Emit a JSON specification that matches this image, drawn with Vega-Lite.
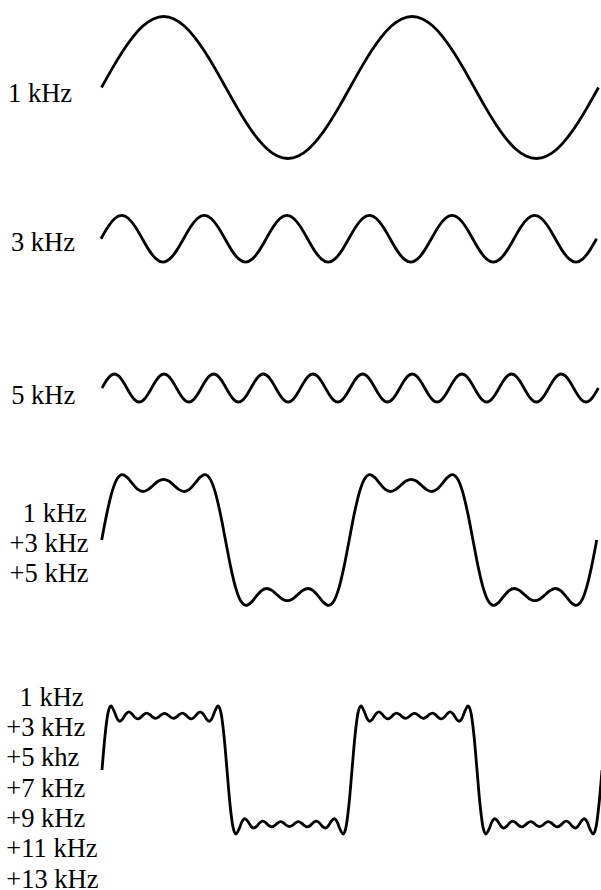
{
  "$schema": "https://vega.github.io/schema/vega-lite/v6.json",
  "background": "white",
  "padding": 0,
  "spacing": 0,
  "bounds": "flush",
  "config": {
    "view": {"stroke": null},
    "line": {"color": "#000000", "strokeWidth": 2.8, "strokeCap": "butt", "clip": true},
    "axisY": {
      "domain": false,
      "ticks": false,
      "labels": false,
      "grid": false,
      "titleAngle": 0,
      "titleAlign": "left",
      "titleBaseline": "alphabetic",
      "titleFont": "Liberation Serif",
      "titleFontSize": 26.5,
      "titleFontWeight": "normal",
      "titleColor": "#000000",
      "titleLineHeight": 30.3
    }
  },
  "datasets": {
    "w1": [
      {"deg":0,"amp":0},{"deg":15,"amp":0.2588},{"deg":30,"amp":0.5},{"deg":45,"amp":0.7071},{"deg":60,"amp":0.866},{"deg":75,"amp":0.9659},
      {"deg":90,"amp":1},{"deg":105,"amp":0.9659},{"deg":120,"amp":0.866},{"deg":135,"amp":0.7071},{"deg":150,"amp":0.5},{"deg":165,"amp":0.2588},
      {"deg":180,"amp":0},{"deg":195,"amp":-0.2588},{"deg":210,"amp":-0.5},{"deg":225,"amp":-0.7071},{"deg":240,"amp":-0.866},{"deg":255,"amp":-0.9659},
      {"deg":270,"amp":-1},{"deg":285,"amp":-0.9659},{"deg":300,"amp":-0.866},{"deg":315,"amp":-0.7071},{"deg":330,"amp":-0.5},{"deg":345,"amp":-0.2588},
      {"deg":360,"amp":0},{"deg":375,"amp":0.2588},{"deg":390,"amp":0.5},{"deg":405,"amp":0.7071},{"deg":420,"amp":0.866},{"deg":435,"amp":0.9659},
      {"deg":450,"amp":1},{"deg":465,"amp":0.9659},{"deg":480,"amp":0.866},{"deg":495,"amp":0.7071},{"deg":510,"amp":0.5},{"deg":525,"amp":0.2588},
      {"deg":540,"amp":0},{"deg":555,"amp":-0.2588},{"deg":570,"amp":-0.5},{"deg":585,"amp":-0.7071},{"deg":600,"amp":-0.866},{"deg":615,"amp":-0.9659},
      {"deg":630,"amp":-1},{"deg":645,"amp":-0.9659},{"deg":660,"amp":-0.866},{"deg":675,"amp":-0.7071},{"deg":690,"amp":-0.5},{"deg":705,"amp":-0.2588},
      {"deg":720,"amp":0}
    ],
    "w3": [
      {"deg":0,"amp":0},{"deg":10,"amp":0.1667},{"deg":20,"amp":0.2887},{"deg":30,"amp":0.3333},{"deg":40,"amp":0.2887},{"deg":50,"amp":0.1667},
      {"deg":60,"amp":0},{"deg":70,"amp":-0.1667},{"deg":80,"amp":-0.2887},{"deg":90,"amp":-0.3333},{"deg":100,"amp":-0.2887},{"deg":110,"amp":-0.1667},
      {"deg":120,"amp":0},{"deg":130,"amp":0.1667},{"deg":140,"amp":0.2887},{"deg":150,"amp":0.3333},{"deg":160,"amp":0.2887},{"deg":170,"amp":0.1667},
      {"deg":180,"amp":0},{"deg":190,"amp":-0.1667},{"deg":200,"amp":-0.2887},{"deg":210,"amp":-0.3333},{"deg":220,"amp":-0.2887},{"deg":230,"amp":-0.1667},
      {"deg":240,"amp":0},{"deg":250,"amp":0.1667},{"deg":260,"amp":0.2887},{"deg":270,"amp":0.3333},{"deg":280,"amp":0.2887},{"deg":290,"amp":0.1667},
      {"deg":300,"amp":0},{"deg":310,"amp":-0.1667},{"deg":320,"amp":-0.2887},{"deg":330,"amp":-0.3333},{"deg":340,"amp":-0.2887},{"deg":350,"amp":-0.1667},
      {"deg":360,"amp":0},{"deg":370,"amp":0.1667},{"deg":380,"amp":0.2887},{"deg":390,"amp":0.3333},{"deg":400,"amp":0.2887},{"deg":410,"amp":0.1667},
      {"deg":420,"amp":0},{"deg":430,"amp":-0.1667},{"deg":440,"amp":-0.2887},{"deg":450,"amp":-0.3333},{"deg":460,"amp":-0.2887},{"deg":470,"amp":-0.1667},
      {"deg":480,"amp":0},{"deg":490,"amp":0.1667},{"deg":500,"amp":0.2887},{"deg":510,"amp":0.3333},{"deg":520,"amp":0.2887},{"deg":530,"amp":0.1667},
      {"deg":540,"amp":0},{"deg":550,"amp":-0.1667},{"deg":560,"amp":-0.2887},{"deg":570,"amp":-0.3333},{"deg":580,"amp":-0.2887},{"deg":590,"amp":-0.1667},
      {"deg":600,"amp":0},{"deg":610,"amp":0.1667},{"deg":620,"amp":0.2887},{"deg":630,"amp":0.3333},{"deg":640,"amp":0.2887},{"deg":650,"amp":0.1667},
      {"deg":660,"amp":0},{"deg":670,"amp":-0.1667},{"deg":680,"amp":-0.2887},{"deg":690,"amp":-0.3333},{"deg":700,"amp":-0.2887},{"deg":710,"amp":-0.1667},
      {"deg":720,"amp":0}
    ],
    "w5": [
      {"deg":0,"amp":0},{"deg":6,"amp":0.1},{"deg":12,"amp":0.1732},{"deg":18,"amp":0.2},{"deg":24,"amp":0.1732},{"deg":30,"amp":0.1},
      {"deg":36,"amp":0},{"deg":42,"amp":-0.1},{"deg":48,"amp":-0.1732},{"deg":54,"amp":-0.2},{"deg":60,"amp":-0.1732},{"deg":66,"amp":-0.1},
      {"deg":72,"amp":0},{"deg":78,"amp":0.1},{"deg":84,"amp":0.1732},{"deg":90,"amp":0.2},{"deg":96,"amp":0.1732},{"deg":102,"amp":0.1},
      {"deg":108,"amp":0},{"deg":114,"amp":-0.1},{"deg":120,"amp":-0.1732},{"deg":126,"amp":-0.2},{"deg":132,"amp":-0.1732},{"deg":138,"amp":-0.1},
      {"deg":144,"amp":0},{"deg":150,"amp":0.1},{"deg":156,"amp":0.1732},{"deg":162,"amp":0.2},{"deg":168,"amp":0.1732},{"deg":174,"amp":0.1},
      {"deg":180,"amp":0},{"deg":186,"amp":-0.1},{"deg":192,"amp":-0.1732},{"deg":198,"amp":-0.2},{"deg":204,"amp":-0.1732},{"deg":210,"amp":-0.1},
      {"deg":216,"amp":0},{"deg":222,"amp":0.1},{"deg":228,"amp":0.1732},{"deg":234,"amp":0.2},{"deg":240,"amp":0.1732},{"deg":246,"amp":0.1},
      {"deg":252,"amp":0},{"deg":258,"amp":-0.1},{"deg":264,"amp":-0.1732},{"deg":270,"amp":-0.2},{"deg":276,"amp":-0.1732},{"deg":282,"amp":-0.1},
      {"deg":288,"amp":0},{"deg":294,"amp":0.1},{"deg":300,"amp":0.1732},{"deg":306,"amp":0.2},{"deg":312,"amp":0.1732},{"deg":318,"amp":0.1},
      {"deg":324,"amp":0},{"deg":330,"amp":-0.1},{"deg":336,"amp":-0.1732},{"deg":342,"amp":-0.2},{"deg":348,"amp":-0.1732},{"deg":354,"amp":-0.1},
      {"deg":360,"amp":0},{"deg":366,"amp":0.1},{"deg":372,"amp":0.1732},{"deg":378,"amp":0.2},{"deg":384,"amp":0.1732},{"deg":390,"amp":0.1},
      {"deg":396,"amp":0},{"deg":402,"amp":-0.1},{"deg":408,"amp":-0.1732},{"deg":414,"amp":-0.2},{"deg":420,"amp":-0.1732},{"deg":426,"amp":-0.1},
      {"deg":432,"amp":0},{"deg":438,"amp":0.1},{"deg":444,"amp":0.1732},{"deg":450,"amp":0.2},{"deg":456,"amp":0.1732},{"deg":462,"amp":0.1},
      {"deg":468,"amp":0},{"deg":474,"amp":-0.1},{"deg":480,"amp":-0.1732},{"deg":486,"amp":-0.2},{"deg":492,"amp":-0.1732},{"deg":498,"amp":-0.1},
      {"deg":504,"amp":0},{"deg":510,"amp":0.1},{"deg":516,"amp":0.1732},{"deg":522,"amp":0.2},{"deg":528,"amp":0.1732},{"deg":534,"amp":0.1},
      {"deg":540,"amp":0},{"deg":546,"amp":-0.1},{"deg":552,"amp":-0.1732},{"deg":558,"amp":-0.2},{"deg":564,"amp":-0.1732},{"deg":570,"amp":-0.1},
      {"deg":576,"amp":0},{"deg":582,"amp":0.1},{"deg":588,"amp":0.1732},{"deg":594,"amp":0.2},{"deg":600,"amp":0.1732},{"deg":606,"amp":0.1},
      {"deg":612,"amp":0},{"deg":618,"amp":-0.1},{"deg":624,"amp":-0.1732},{"deg":630,"amp":-0.2},{"deg":636,"amp":-0.1732},{"deg":642,"amp":-0.1},
      {"deg":648,"amp":0},{"deg":654,"amp":0.1},{"deg":660,"amp":0.1732},{"deg":666,"amp":0.2},{"deg":672,"amp":0.1732},{"deg":678,"amp":0.1},
      {"deg":684,"amp":0},{"deg":690,"amp":-0.1},{"deg":696,"amp":-0.1732},{"deg":702,"amp":-0.2},{"deg":708,"amp":-0.1732},{"deg":714,"amp":-0.1},
      {"deg":720,"amp":0}
    ],
    "w135": [
      {"deg":0,"amp":0},{"deg":7.5,"amp":0.3798},{"deg":15,"amp":0.6877},{"deg":22.5,"amp":0.8754},{"deg":30,"amp":0.9333},{"deg":37.5,"amp":0.8906},
      {"deg":45,"amp":0.8014},{"deg":52.5,"amp":0.7226},{"deg":60,"amp":0.6928},{"deg":67.5,"amp":0.7198},{"deg":75,"amp":0.782},{"deg":82.5,"amp":0.8422},
      {"deg":90,"amp":0.8667},{"deg":97.5,"amp":0.8422},{"deg":105,"amp":0.782},{"deg":112.5,"amp":0.7198},{"deg":120,"amp":0.6928},{"deg":127.5,"amp":0.7226},
      {"deg":135,"amp":0.8014},{"deg":142.5,"amp":0.8906},{"deg":150,"amp":0.9333},{"deg":157.5,"amp":0.8754},{"deg":165,"amp":0.6877},{"deg":172.5,"amp":0.3798},
      {"deg":180,"amp":0},{"deg":187.5,"amp":-0.3798},{"deg":195,"amp":-0.6877},{"deg":202.5,"amp":-0.8754},{"deg":210,"amp":-0.9333},{"deg":217.5,"amp":-0.8906},
      {"deg":225,"amp":-0.8014},{"deg":232.5,"amp":-0.7226},{"deg":240,"amp":-0.6928},{"deg":247.5,"amp":-0.7198},{"deg":255,"amp":-0.782},{"deg":262.5,"amp":-0.8422},
      {"deg":270,"amp":-0.8667},{"deg":277.5,"amp":-0.8422},{"deg":285,"amp":-0.782},{"deg":292.5,"amp":-0.7198},{"deg":300,"amp":-0.6928},{"deg":307.5,"amp":-0.7226},
      {"deg":315,"amp":-0.8014},{"deg":322.5,"amp":-0.8906},{"deg":330,"amp":-0.9333},{"deg":337.5,"amp":-0.8754},{"deg":345,"amp":-0.6877},{"deg":352.5,"amp":-0.3798},
      {"deg":360,"amp":0},{"deg":367.5,"amp":0.3798},{"deg":375,"amp":0.6877},{"deg":382.5,"amp":0.8754},{"deg":390,"amp":0.9333},{"deg":397.5,"amp":0.8906},
      {"deg":405,"amp":0.8014},{"deg":412.5,"amp":0.7226},{"deg":420,"amp":0.6928},{"deg":427.5,"amp":0.7198},{"deg":435,"amp":0.782},{"deg":442.5,"amp":0.8422},
      {"deg":450,"amp":0.8667},{"deg":457.5,"amp":0.8422},{"deg":465,"amp":0.782},{"deg":472.5,"amp":0.7198},{"deg":480,"amp":0.6928},{"deg":487.5,"amp":0.7226},
      {"deg":495,"amp":0.8014},{"deg":502.5,"amp":0.8906},{"deg":510,"amp":0.9333},{"deg":517.5,"amp":0.8754},{"deg":525,"amp":0.6877},{"deg":532.5,"amp":0.3798},
      {"deg":540,"amp":0},{"deg":547.5,"amp":-0.3798},{"deg":555,"amp":-0.6877},{"deg":562.5,"amp":-0.8754},{"deg":570,"amp":-0.9333},{"deg":577.5,"amp":-0.8906},
      {"deg":585,"amp":-0.8014},{"deg":592.5,"amp":-0.7226},{"deg":600,"amp":-0.6928},{"deg":607.5,"amp":-0.7198},{"deg":615,"amp":-0.782},{"deg":622.5,"amp":-0.8422},
      {"deg":630,"amp":-0.8667},{"deg":637.5,"amp":-0.8422},{"deg":645,"amp":-0.782},{"deg":652.5,"amp":-0.7198},{"deg":660,"amp":-0.6928},{"deg":667.5,"amp":-0.7226},
      {"deg":675,"amp":-0.8014},{"deg":682.5,"amp":-0.8906},{"deg":690,"amp":-0.9333},{"deg":697.5,"amp":-0.8754},{"deg":705,"amp":-0.6877},{"deg":712.5,"amp":-0.3798},
      {"deg":720,"amp":0}
    ],
    "w13579": [
      {"deg":0,"amp":0},{"deg":4.29,"amp":0.4929},{"deg":8.57,"amp":0.824},{"deg":12.86,"amp":0.9273},{"deg":17.14,"amp":0.8609},{"deg":21.43,"amp":0.7523},
      {"deg":25.71,"amp":0.7064},{"deg":30,"amp":0.7438},{"deg":34.29,"amp":0.811},{"deg":38.57,"amp":0.8416},{"deg":42.86,"amp":0.8146},{"deg":47.14,"amp":0.764},
      {"deg":51.43,"amp":0.7402},{"deg":55.71,"amp":0.7622},{"deg":60,"amp":0.8044},{"deg":64.29,"amp":0.8248},{"deg":68.57,"amp":0.8054},{"deg":72.86,"amp":0.7675},
      {"deg":77.14,"amp":0.749},{"deg":81.43,"amp":0.7671},{"deg":85.71,"amp":0.8031},{"deg":90,"amp":0.8209},{"deg":94.29,"amp":0.8031},{"deg":98.57,"amp":0.7671},
      {"deg":102.86,"amp":0.749},{"deg":107.14,"amp":0.7675},{"deg":111.43,"amp":0.8054},{"deg":115.71,"amp":0.8248},{"deg":120,"amp":0.8044},{"deg":124.29,"amp":0.7622},
      {"deg":128.57,"amp":0.7402},{"deg":132.86,"amp":0.764},{"deg":137.14,"amp":0.8146},{"deg":141.43,"amp":0.8416},{"deg":145.71,"amp":0.811},{"deg":150,"amp":0.7438},
      {"deg":154.29,"amp":0.7064},{"deg":158.57,"amp":0.7523},{"deg":162.86,"amp":0.8609},{"deg":167.14,"amp":0.9273},{"deg":171.43,"amp":0.824},{"deg":175.71,"amp":0.4929},
      {"deg":180,"amp":0},{"deg":184.29,"amp":-0.4929},{"deg":188.57,"amp":-0.824},{"deg":192.86,"amp":-0.9273},{"deg":197.14,"amp":-0.8609},{"deg":201.43,"amp":-0.7523},
      {"deg":205.71,"amp":-0.7064},{"deg":210,"amp":-0.7438},{"deg":214.29,"amp":-0.811},{"deg":218.57,"amp":-0.8416},{"deg":222.86,"amp":-0.8146},{"deg":227.14,"amp":-0.764},
      {"deg":231.43,"amp":-0.7402},{"deg":235.71,"amp":-0.7622},{"deg":240,"amp":-0.8044},{"deg":244.29,"amp":-0.8248},{"deg":248.57,"amp":-0.8054},{"deg":252.86,"amp":-0.7675},
      {"deg":257.14,"amp":-0.749},{"deg":261.43,"amp":-0.7671},{"deg":265.71,"amp":-0.8031},{"deg":270,"amp":-0.8209},{"deg":274.29,"amp":-0.8031},{"deg":278.57,"amp":-0.7671},
      {"deg":282.86,"amp":-0.749},{"deg":287.14,"amp":-0.7675},{"deg":291.43,"amp":-0.8054},{"deg":295.71,"amp":-0.8248},{"deg":300,"amp":-0.8044},{"deg":304.29,"amp":-0.7622},
      {"deg":308.57,"amp":-0.7402},{"deg":312.86,"amp":-0.764},{"deg":317.14,"amp":-0.8146},{"deg":321.43,"amp":-0.8416},{"deg":325.71,"amp":-0.811},{"deg":330,"amp":-0.7438},
      {"deg":334.29,"amp":-0.7064},{"deg":338.57,"amp":-0.7523},{"deg":342.86,"amp":-0.8609},{"deg":347.14,"amp":-0.9273},{"deg":351.43,"amp":-0.824},{"deg":355.71,"amp":-0.4929},
      {"deg":360,"amp":0},{"deg":364.29,"amp":0.4929},{"deg":368.57,"amp":0.824},{"deg":372.86,"amp":0.9273},{"deg":377.14,"amp":0.8609},{"deg":381.43,"amp":0.7523},
      {"deg":385.71,"amp":0.7064},{"deg":390,"amp":0.7438},{"deg":394.29,"amp":0.811},{"deg":398.57,"amp":0.8416},{"deg":402.86,"amp":0.8146},{"deg":407.14,"amp":0.764},
      {"deg":411.43,"amp":0.7402},{"deg":415.71,"amp":0.7622},{"deg":420,"amp":0.8044},{"deg":424.29,"amp":0.8248},{"deg":428.57,"amp":0.8054},{"deg":432.86,"amp":0.7675},
      {"deg":437.14,"amp":0.749},{"deg":441.43,"amp":0.7671},{"deg":445.71,"amp":0.8031},{"deg":450,"amp":0.8209},{"deg":454.29,"amp":0.8031},{"deg":458.57,"amp":0.7671},
      {"deg":462.86,"amp":0.749},{"deg":467.14,"amp":0.7675},{"deg":471.43,"amp":0.8054},{"deg":475.71,"amp":0.8248},{"deg":480,"amp":0.8044},{"deg":484.29,"amp":0.7622},
      {"deg":488.57,"amp":0.7402},{"deg":492.86,"amp":0.764},{"deg":497.14,"amp":0.8146},{"deg":501.43,"amp":0.8416},{"deg":505.71,"amp":0.811},{"deg":510,"amp":0.7438},
      {"deg":514.29,"amp":0.7064},{"deg":518.57,"amp":0.7523},{"deg":522.86,"amp":0.8609},{"deg":527.14,"amp":0.9273},{"deg":531.43,"amp":0.824},{"deg":535.71,"amp":0.4929},
      {"deg":540,"amp":0},{"deg":544.29,"amp":-0.4929},{"deg":548.57,"amp":-0.824},{"deg":552.86,"amp":-0.9273},{"deg":557.14,"amp":-0.8609},{"deg":561.43,"amp":-0.7523},
      {"deg":565.71,"amp":-0.7064},{"deg":570,"amp":-0.7438},{"deg":574.29,"amp":-0.811},{"deg":578.57,"amp":-0.8416},{"deg":582.86,"amp":-0.8146},{"deg":587.14,"amp":-0.764},
      {"deg":591.43,"amp":-0.7402},{"deg":595.71,"amp":-0.7622},{"deg":600,"amp":-0.8044},{"deg":604.29,"amp":-0.8248},{"deg":608.57,"amp":-0.8054},{"deg":612.86,"amp":-0.7675},
      {"deg":617.14,"amp":-0.749},{"deg":621.43,"amp":-0.7671},{"deg":625.71,"amp":-0.8031},{"deg":630,"amp":-0.8209},{"deg":634.29,"amp":-0.8031},{"deg":638.57,"amp":-0.7671},
      {"deg":642.86,"amp":-0.749},{"deg":647.14,"amp":-0.7675},{"deg":651.43,"amp":-0.8054},{"deg":655.71,"amp":-0.8248},{"deg":660,"amp":-0.8044},{"deg":664.29,"amp":-0.7622},
      {"deg":668.57,"amp":-0.7402},{"deg":672.86,"amp":-0.764},{"deg":677.14,"amp":-0.8146},{"deg":681.43,"amp":-0.8416},{"deg":685.71,"amp":-0.811},{"deg":690,"amp":-0.7438},
      {"deg":694.29,"amp":-0.7064},{"deg":698.57,"amp":-0.7523},{"deg":702.86,"amp":-0.8609},{"deg":707.14,"amp":-0.9273},{"deg":711.43,"amp":-0.824},{"deg":715.71,"amp":-0.4929},
      {"deg":720,"amp":0}
    ]
  },
  "vconcat": [
    {
      "data": {"name": "w1"},
      "width": 601,
      "height": 165,
      "mark": {"type": "line", "interpolate": "natural"},
      "encoding": {
        "x": {"field": "deg", "type": "quantitative", "axis": null,
              "scale": {"domain": [-147.04, 723.62], "nice": false, "zero": false}},
        "y": {"field": "amp", "type": "quantitative",
              "scale": {"domain": [-1.0915, 1.2324], "nice": false, "zero": false},
              "axis": {"title": "1 kHz", "titleX": 7.5, "titleY": 101.7}}
      }
    },
    {
      "data": {"name": "w3"},
      "width": 601,
      "height": 150,
      "mark": {"type": "line", "interpolate": "natural"},
      "encoding": {
        "x": {"field": "deg", "type": "quantitative", "axis": null,
              "scale": {"domain": [-146.73, 726.39], "nice": false, "zero": false}},
        "y": {"field": "amp", "type": "quantitative",
              "scale": {"domain": [-1.09, 1.0529], "nice": false, "zero": false},
              "axis": {"title": "3 kHz", "titleX": 10.4, "titleY": 85}}
      }
    },
    {
      "data": {"name": "w5"},
      "width": 601,
      "height": 150,
      "mark": {"type": "line", "interpolate": "natural"},
      "encoding": {
        "x": {"field": "deg", "type": "quantitative", "axis": null,
              "scale": {"domain": [-147.95, 723.76], "nice": false, "zero": false}},
        "y": {"field": "amp", "type": "quantitative",
              "scale": {"domain": [-1.1, 1.0429], "nice": false, "zero": false},
              "axis": {"title": "5 kHz", "titleX": 10.7, "titleY": 88.3}}
      }
    },
    {
      "data": {"name": "w135"},
      "width": 601,
      "height": 185,
      "mark": {"type": "line", "interpolate": "monotone"},
      "encoding": {
        "x": {"field": "deg", "type": "quantitative", "axis": null,
              "scale": {"domain": [-147.93, 726.25], "nice": false, "zero": false}},
        "y": {"field": "amp", "type": "quantitative",
              "scale": {"domain": [-1.5714, 1.0714], "nice": false, "zero": false},
              "axis": {"title": ["\u200c\u00a0\u00a01 kHz", "+3 kHz", "+5 kHz"], "titleX": 9.1, "titleY": 56}}
      }
    },
    {
      "data": {"name": "w13579"},
      "width": 601,
      "height": 240,
      "mark": {"type": "line", "interpolate": "monotone"},
      "encoding": {
        "x": {"field": "deg", "type": "quantitative", "axis": null,
              "scale": {"domain": [-146.88, 718.56], "nice": false, "zero": false}},
        "y": {"field": "amp", "type": "quantitative",
              "scale": {"domain": [-1.7391, 1.7391], "nice": false, "zero": false},
              "axis": {"title": ["\u200c\u00a0\u00a01 kHz", "+3 kHz", "+5 khz", "+7 kHz", "+9 kHz", "+11 kHz", "+13 kHz"], "titleX": 5.8, "titleY": 55.3}}
      }
    }
  ]
}
